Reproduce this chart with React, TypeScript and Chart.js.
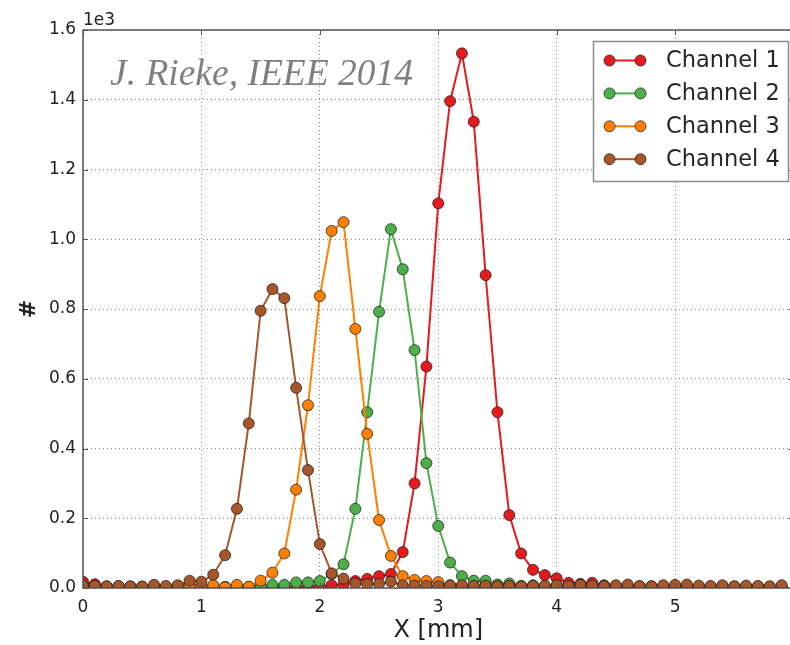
import React, { useEffect, useRef } from "react";
import { Chart, registerables } from "chart.js";

Chart.register(...registerables);

// ---- data (values in units of 1e3) ----
const xValues = [
  0.0, 0.1, 0.2, 0.3, 0.4, 0.5, 0.6, 0.7, 0.8, 0.9,
  1.0, 1.1, 1.2, 1.3, 1.4, 1.5, 1.6, 1.7, 1.8, 1.9,
  2.0, 2.1, 2.2, 2.3, 2.4, 2.5, 2.6, 2.7, 2.8, 2.9,
  3.0, 3.1, 3.2, 3.3, 3.4, 3.5, 3.6, 3.7, 3.8, 3.9,
  4.0, 4.1, 4.2, 4.3, 4.4, 4.5, 4.6, 4.7, 4.8, 4.9,
  5.0, 5.1, 5.2, 5.3, 5.4, 5.5, 5.6, 5.7, 5.8, 5.9,
];

const channel1 = [
  0.018, 0.011, 0.004, 0.005, 0.003, 0.004, 0.005, 0.003, 0.004, 0.003,
  0.004, 0.003, 0.002, 0.003, 0.002, 0.003, 0.002, 0.003, 0.002, 0.003,
  0.004, 0.008, 0.010, 0.020, 0.026, 0.034, 0.040, 0.103, 0.300, 0.635,
  1.103, 1.396, 1.533, 1.337, 0.897, 0.504, 0.209, 0.099, 0.052, 0.037,
  0.028, 0.015, 0.012, 0.015, 0.008, 0.006, 0.005, 0.004, 0.005, 0.004,
  0.005, 0.004, 0.003, 0.004, 0.003, 0.004, 0.003, 0.003, 0.002, 0.003,
];

const channel2 = [
  0.003, 0.002, 0.003, 0.002, 0.003, 0.002, 0.003, 0.002, 0.003, 0.003,
  0.003, 0.004, 0.003, 0.004, 0.003, 0.004, 0.009, 0.009, 0.016, 0.016,
  0.020, 0.040, 0.068, 0.227, 0.504, 0.792, 1.029, 0.914, 0.682, 0.358,
  0.178, 0.073, 0.034, 0.021, 0.021, 0.010, 0.013, 0.006, 0.008, 0.005,
  0.006, 0.004, 0.005, 0.004, 0.003, 0.004, 0.003, 0.004, 0.003, 0.003,
  0.004, 0.003, 0.003, 0.002, 0.003, 0.003, 0.002, 0.003, 0.002, 0.003,
];

const channel3 = [
  0.004, 0.003, 0.004, 0.003, 0.004, 0.003, 0.004, 0.003, 0.005, 0.006,
  0.007, 0.008, 0.002, 0.009, 0.004, 0.021, 0.044, 0.099, 0.282, 0.524,
  0.837, 1.024, 1.049, 0.743, 0.442, 0.195, 0.092, 0.034, 0.023, 0.020,
  0.017, 0.008, 0.006, 0.005, 0.006, 0.004, 0.005, 0.004, 0.003, 0.004,
  0.003, 0.004, 0.003, 0.003, 0.004, 0.003, 0.002, 0.003, 0.003, 0.002,
  0.003, 0.002, 0.003, 0.002, 0.003, 0.002, 0.003, 0.002, 0.002, 0.003,
];

const channel4 = [
  0.007, 0.006, 0.005, 0.006, 0.005, 0.004, 0.009, 0.006, 0.008, 0.021,
  0.018, 0.038, 0.094, 0.227, 0.472, 0.795, 0.857, 0.831, 0.574, 0.338,
  0.126, 0.042, 0.027, 0.013, 0.011, 0.012, 0.018, 0.008, 0.007, 0.006,
  0.005, 0.007, 0.008, 0.006, 0.007, 0.005, 0.006, 0.005, 0.006, 0.007,
  0.008, 0.006, 0.009, 0.007, 0.005, 0.008, 0.010, 0.006, 0.005, 0.008,
  0.009, 0.010, 0.007, 0.006, 0.008, 0.005, 0.007, 0.006, 0.005, 0.008,
];

const seriesNames = ["Channel 1", "Channel 2", "Channel 3", "Channel 4"];
const seriesValues = [channel1, channel2, channel3, channel4];
const seriesColors = ["#e41a1c", "#4daf4a", "#ff7f00", "#a65628"];

const xTicks = [0, 1, 2, 3, 4, 5];
const yTicks = [0, 0.2, 0.4, 0.6, 0.8, 1.0, 1.2, 1.4, 1.6];
const xTitle = "X [mm]";
const yTitle = "#";
const yExponent = "1e3";
const watermark = "J. Rieke, IEEE 2014";

const FONT = "'DejaVu Sans', sans-serif";
const SPINE = "#555555";

const decorPlugin = {
  id: "decor",
  afterDraw(chart: any) {
    const { ctx, chartArea } = chart;
    const { left, right, top, bottom } = chartArea;
    const xs = chart.scales.x;
    const ys = chart.scales.y;
    ctx.save();

    // frame
    ctx.strokeStyle = SPINE;
    ctx.lineWidth = 1.5;
    ctx.strokeRect(left, top, right - left, bottom - top);

    // inward ticks on all sides
    ctx.lineWidth = 1;
    ctx.beginPath();
    for (const v of xTicks) {
      const px = Math.round(xs.getPixelForValue(v)) + 0.5;
      ctx.moveTo(px, bottom);
      ctx.lineTo(px, bottom - 5);
      ctx.moveTo(px, top);
      ctx.lineTo(px, top + 5);
    }
    for (const v of yTicks) {
      const py = Math.round(ys.getPixelForValue(v)) + 0.5;
      ctx.moveTo(left, py);
      ctx.lineTo(left + 5, py);
      ctx.moveTo(right, py);
      ctx.lineTo(right - 5, py);
    }
    ctx.stroke();

    // offset text "1e3"
    ctx.fillStyle = "#222222";
    ctx.font = `17px ${FONT}`;
    ctx.textAlign = "left";
    ctx.textBaseline = "alphabetic";
    ctx.fillText(yExponent, left, 25);

    // watermark
    ctx.fillStyle = "#808080";
    ctx.font = `italic 37.5px 'Liberation Serif', 'DejaVu Serif', serif`;
    ctx.fillText(watermark, 110, 85);

    // legend
    const bx = 593.5, by = 41.5, bw = 195, bh = 140;
    ctx.fillStyle = "#ffffff";
    ctx.fillRect(bx, by, bw, bh);
    ctx.strokeStyle = "#8c8c8c";
    ctx.lineWidth = 1.5;
    ctx.strokeRect(bx, by, bw, bh);
    chart.data.datasets.forEach((ds: any, i: number) => {
      const cy = 60.5 + i * 32.9;
      const x1 = 609.5, x2 = 640.5;
      ctx.strokeStyle = ds.borderColor;
      ctx.lineWidth = 2;
      ctx.beginPath();
      ctx.moveTo(x1, cy);
      ctx.lineTo(x2, cy);
      ctx.stroke();
      for (const mx of [x1, x2]) {
        ctx.beginPath();
        ctx.arc(mx, cy, 5.5, 0, Math.PI * 2);
        ctx.fillStyle = ds.pointBackgroundColor;
        ctx.fill();
        ctx.strokeStyle = ds.pointBorderColor;
        ctx.lineWidth = 1;
        ctx.stroke();
      }
      ctx.fillStyle = "#262626";
      ctx.font = `22.5px ${FONT}`;
      ctx.textBaseline = "middle";
      ctx.fillText(ds.label, 666, cy + 1);
    });

    ctx.restore();
  },
};

export default function App() {
  const canvasRef = useRef<HTMLCanvasElement | null>(null);

  useEffect(() => {
    if (!canvasRef.current) return;
    const datasets = seriesNames.map((name, i) => ({
      label: name,
      data: xValues.map((x, j) => ({ x, y: seriesValues[i][j] })),
      borderColor: seriesColors[i],
      backgroundColor: seriesColors[i],
      pointBackgroundColor: seriesColors[i],
      pointBorderColor: "rgba(30,30,30,0.75)",
      pointBorderWidth: 1,
      pointRadius: 5.5,
      borderWidth: 2,
      tension: 0,
      clip: 0,
      order: seriesNames.length - i,
    }));

    const chart = new Chart(canvasRef.current, {
      type: "line",
      data: { datasets },
      plugins: [decorPlugin],
      options: {
        animation: false,
        responsive: false,
        devicePixelRatio: 1,
        events: [],
        layout: { padding: { top: 30, right: 0, left: 0, bottom: 0 } },
        plugins: {
          legend: { display: false },
          tooltip: { enabled: false },
          title: { display: false },
        },
        scales: {
          x: {
            type: "linear",
            min: 0,
            max: 6,
            afterBuildTicks: (scale: any) => {
              scale.ticks = xTicks.map((v) => ({ value: v }));
            },
            afterFit: (scale: any) => {
              scale.height = 57;
              scale.paddingLeft = 0;
              scale.paddingRight = 0;
            },
            ticks: {
              font: { family: FONT, size: 17 },
              color: "#222222",
              padding: 9,
              maxRotation: 0,
              autoSkip: false,
              callback: (v: any) => String(v),
            },
            grid: {
              color: "#8a8a8a",
              lineWidth: 1,
              drawTicks: false,
            },
            border: { display: false, dash: [1, 3] },
            title: {
              display: true,
              text: xTitle,
              font: { family: FONT, size: 24 },
              color: "#222222",
              padding: { top: 0, bottom: 0 },
            },
          },
          y: {
            type: "linear",
            min: 0,
            max: 1.6,
            afterBuildTicks: (scale: any) => {
              scale.ticks = yTicks.map((v) => ({ value: v }));
            },
            afterFit: (scale: any) => {
              scale.width = 83;
              scale.paddingTop = 0;
              scale.paddingBottom = 0;
            },
            ticks: {
              font: { family: FONT, size: 17 },
              color: "#222222",
              padding: 7,
              autoSkip: false,
              callback: (v: any) => Number(v).toFixed(1),
            },
            grid: {
              color: "#8a8a8a",
              lineWidth: 1,
              drawTicks: false,
            },
            border: { display: false, dash: [1, 3] },
            title: {
              display: true,
              text: yTitle,
              font: { family: FONT, size: 22, weight: "bold" },
              color: "#222222",
              padding: { top: 16, bottom: 0 },
            },
          },
        },
      },
    } as any);

    return () => chart.destroy();
  }, []);

  return (
    <div
      style={{
        position: "fixed",
        left: 0,
        top: 0,
        width: 790,
        height: 645,
        overflow: "hidden",
        background: "#ffffff",
      }}
    >
      <canvas
        ref={canvasRef}
        width={800}
        height={645}
        style={{ display: "block", width: 800, height: 645 }}
      />
    </div>
  );
}
